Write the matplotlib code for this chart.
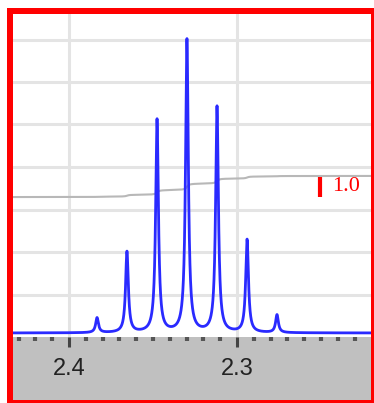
import numpy as np
import matplotlib
matplotlib.use("Agg")
import matplotlib.pyplot as plt
from matplotlib.patches import Rectangle

# septet (ppm, relative height)
peak_ppm = [2.3833, 2.3655, 2.3476, 2.3298, 2.3119, 2.2940, 2.2762]
peak_height = [0.051, 0.276, 0.727, 1.0, 0.771, 0.317, 0.061]
peak_hwhm = 0.00098
integral_start = 0.464
integral_end = 0.536
integral_label = "1.0"
tick_ppm = [2.4, 2.3]
tick_labels = ["2.4", "2.3"]

W, H = 374, 403
x_left, x_right = 2.43333, 2.22024

def fx(px):
    return px / W

def fy(py):
    return (H - py) / H

fig = plt.figure(figsize=(W / 100, H / 100), dpi=100)
fig.patch.set_facecolor("white")

# white spectrum area
ax = fig.add_axes([fx(13), fy(337), fx(371) - fx(13), fy(14) - fy(337)])
ax.set_xlim(x_left, x_right)
ax.set_ylim(-0.01365, 1.08874)
for s in ax.spines.values():
    s.set_visible(False)
ax.set_xticks(tick_ppm)
ax.set_yticks([0.130, 0.276, 0.420, 0.567, 0.713, 0.857, 1.0])
ax.tick_params(length=0, labelbottom=False, labelleft=False)
ax.grid(True, color="#e4e4e4", linewidth=2.2)
ax.set_axisbelow(True)

# lineshape built from the peak list
x = np.linspace(x_left, x_right, 6000)
y = np.zeros_like(x)
for c, h in zip(peak_ppm, peak_height):
    y += h * peak_hwhm ** 2 / (peak_hwhm ** 2 + (x - c) ** 2)

integ = np.cumsum(y)
integ = integ / integ[-1]
ax.plot(x, integral_start + (integral_end - integral_start) * integ,
        color="#b8b8b8", linewidth=1.5, zorder=2)
ax.plot(x, y, color="#2a2aff", linewidth=2.0, zorder=3, solid_joinstyle="round")

# integral marker
ax.plot([2.2506, 2.2506], [0.464, 0.533], color="red", linewidth=3, zorder=4,
        solid_capstyle="butt")
ax.text(2.2431, 0.50, integral_label, color="red", fontsize=16,
        family="Liberation Serif", va="center", ha="left", zorder=4)

# gray scale strip
ax2 = fig.add_axes([fx(13), fy(400), fx(371) - fx(13), fy(337) - fy(400)])
ax2.set_facecolor("#c0c0c0")
ax2.set_xlim(x_left, x_right)
ax2.set_ylim(0, 1)
for s in ax2.spines.values():
    s.set_visible(False)
ax2.set_yticks([])
ax2.set_xticks(tick_ppm)
ax2.set_xticklabels(tick_labels)
ax2.set_xticks(np.arange(2.23, 2.435, 0.01), minor=True)
ax2.xaxis.set_ticks_position("top")
ax2.tick_params(axis="x", which="major", direction="in", length=7, width=2.2,
                color="#444444", labeltop=True, labelbottom=False, pad=-31,
                labelsize=17, labelcolor="#222222")
ax2.tick_params(axis="x", which="minor", direction="in", length=3, width=3,
                color="#555555")
for lab in ax2.get_xticklabels():
    lab.set_family("Liberation Sans")

# red frame, cut off at the right and bottom
red = "#ff0000"
for (x0, y0, x1, y1) in [(7, 8, 13, 403), (7, 8, 374, 14), (371, 8, 374, 403), (7, 400, 374, 403)]:
    fig.add_artist(Rectangle((fx(x0), fy(y1)), fx(x1) - fx(x0), fy(y0) - fy(y1),
                             transform=fig.transFigure, facecolor=red,
                             edgecolor="none", zorder=10))

fig.savefig("out.png", dpi=100)
